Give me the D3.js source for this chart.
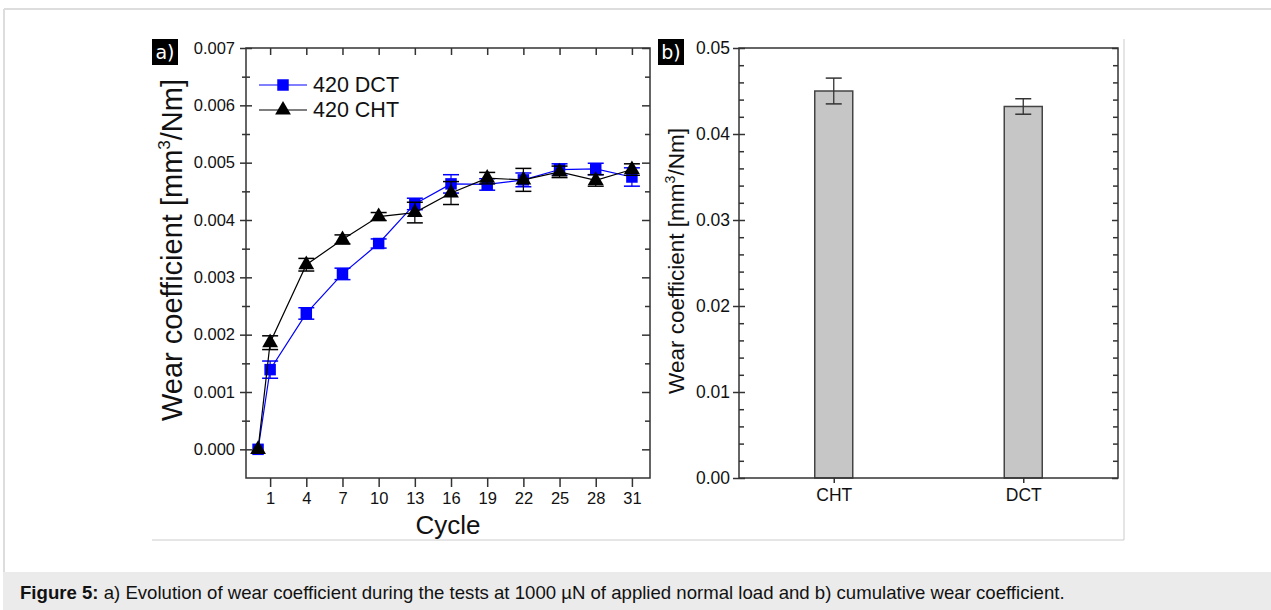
<!DOCTYPE html>
<html><head><meta charset="utf-8">
<script src="https://cdn.jsdelivr.net/npm/d3@7"></script>
<style>body{margin:0;background:#fff}svg{display:block}text{font-family:"Liberation Sans",Arial,sans-serif;fill:#111}</style>
</head><body><svg id="c" width="1271" height="610"></svg>
<script>
// ---- data ----
const cycles=[0,1,4,7,10,13,16,19,22,25,28,31];
const dctValues=[0,0.00139,0.00237,0.00306,0.00359,0.00428,0.00463,0.00462,0.00470,0.00488,0.00489,0.00475];
const dctErr=[0,0.00015,0.0001,0.0001,0.00008,0.0001,0.00016,0.0001,0.00012,0.0001,0.0001,0.00016];
const chtValues=[0,0.00186,0.00322,0.00366,0.00406,0.00413,0.00447,0.00473,0.00470,0.00484,0.00469,0.00488];
const chtErr=[0,0.00012,0.00011,0.00008,0.00007,0.00018,0.0002,0.0001,0.0002,0.0001,0.0001,0.0001];
const xTickValues=[1,4,7,10,13,16,19,22,25,28,31];
const yTicksA=[0,0.001,0.002,0.003,0.004,0.005,0.006,0.007];
const yMinorA=[0.0005,0.0015,0.0025,0.0035,0.0045,0.0055,0.0065];
const barCategories=["CHT","DCT"];
const barValues=[0.0450,0.0432];
const barErr=[0.0015,0.0009];
const yTicksB=[0,0.01,0.02,0.03,0.04,0.05];
const yMinorB=[0.002,0.004,0.006,0.008,0.012,0.014,0.016,0.018,0.022,0.024,0.026,0.028,0.032,0.034,0.036,0.038,0.042,0.044,0.046,0.048];
const seriesNames=["420 DCT","420 CHT"];

const svg=d3.select("#c");
const AX="#333";

// ---- page frame ----
svg.append("line").attr("x1",4).attr("y1",9).attr("x2",1271).attr("y2",9).attr("stroke","#ddd").attr("stroke-width",2);
svg.append("line").attr("x1",4).attr("y1",9).attr("x2",4).attr("y2",572).attr("stroke","#ddd").attr("stroke-width",2);
svg.append("rect").attr("x",3).attr("y",572).attr("width",1268).attr("height",38).attr("fill","#ebebeb");
svg.append("line").attr("x1",1124).attr("y1",39).attr("x2",1124).attr("y2",540).attr("stroke","#ccc").attr("stroke-width",1);
svg.append("line").attr("x1",152).attr("y1",540).attr("x2",1124).attr("y2",540).attr("stroke","#ccc").attr("stroke-width",1);
const cap=svg.append("text").attr("x",20).attr("y",599).style("font-size","18.6px");
cap.append("tspan").attr("font-weight","bold").text("Figure 5:");
cap.append("tspan").text(" a) Evolution of wear coefficient during the tests at 1000 µN of applied normal load and b) cumulative wear coefficient.");

function styleAxis(g){g.selectAll("path,line").attr("stroke",AX).attr("stroke-width",1.5);g.select(".domain").remove();}

// ---- panel a ----
const L=246,R=650,T=48,B=478;
const xA=d3.scaleLinear([-1,32.5],[L,R]);
const yA=d3.scaleLinear([-0.0005,0.007],[B,T]);

svg.append("g").attr("transform",`translate(${L},0)`).call(d3.axisLeft(yA).tickValues(yTicksA).tickSize(6).tickPadding(5).tickFormat(d3.format(".3f"))).call(styleAxis).selectAll("text").style("font-size","16.5px").attr("fill","#111");
svg.append("g").attr("transform",`translate(${L},0)`).call(d3.axisRight(yA).tickValues(yTicksA).tickSize(6).tickFormat("")).call(styleAxis);
svg.append("g").attr("transform",`translate(${L-4},0)`).call(d3.axisRight(yA).tickValues(yMinorA).tickSize(8).tickFormat("")).call(styleAxis);
svg.append("g").attr("transform",`translate(${R},0)`).call(d3.axisLeft(yA).tickValues(yTicksA).tickSize(8).tickFormat("")).call(styleAxis);
svg.append("g").attr("transform",`translate(${R},0)`).call(d3.axisLeft(yA).tickValues(yMinorA).tickSize(5).tickFormat("")).call(styleAxis);
svg.append("g").attr("transform",`translate(0,${T})`).call(d3.axisBottom(xA).tickValues(xTickValues).tickSize(7).tickFormat("")).call(styleAxis);
svg.append("g").attr("transform",`translate(0,${B})`).call(d3.axisBottom(xA).tickValues(xTickValues).tickSize(9).tickPadding(5)).call(styleAxis).selectAll("text").style("font-size","16.5px").attr("fill","#111");
svg.append("rect").attr("x",L).attr("y",T).attr("width",R-L).attr("height",B-T).attr("fill","none").attr("stroke",AX).attr("stroke-width",1.5);

svg.append("text").attr("x",(L+R)/2).attr("y",534).attr("text-anchor","middle").style("font-size","26px").text("Cycle");
const ta=svg.append("text").attr("transform","translate(182,250) rotate(-90)").attr("text-anchor","middle").style("font-size","29px");
ta.append("tspan").text("Wear coefficient [mm");
ta.append("tspan").attr("dy",-12).style("font-size","17px").text("3");
ta.append("tspan").attr("dy",12).text("/Nm]");

function drawSeries(vals,errs,color,symbol,size){
  const pts=cycles.map((c,i)=>({c,v:vals[i],e:errs[i]}));
  const g=svg.append("g");
  g.append("path").datum(pts).attr("d",d3.line().x(d=>xA(d.c)).y(d=>yA(d.v))).attr("fill","none").attr("stroke",color).attr("stroke-width",1.2);
  const eb=g.selectAll(".eb").data(pts.filter(d=>d.e>0)).join("g");
  eb.append("line").attr("x1",d=>xA(d.c)).attr("x2",d=>xA(d.c)).attr("y1",d=>yA(d.v-d.e)).attr("y2",d=>yA(d.v+d.e)).attr("stroke",color).attr("stroke-width",1.2);
  [-1,1].forEach(s=>eb.append("line").attr("x1",d=>xA(d.c)-8).attr("x2",d=>xA(d.c)+8).attr("y1",d=>yA(d.v+s*d.e)).attr("y2",d=>yA(d.v+s*d.e)).attr("stroke",color).attr("stroke-width",1.5));
  g.selectAll(".m").data(pts).join("path").attr("transform",d=>`translate(${xA(d.c)},${yA(d.v)})`).attr("d",d3.symbol().type(symbol).size(size)).attr("fill",color);
}
drawSeries(dctValues,dctErr,"#0000ff",d3.symbolSquare,132);
drawSeries(chtValues,chtErr,"#000",d3.symbolTriangle,108);

// legend
const lg=[{n:seriesNames[0],c:"#0000ff",s:d3.symbolSquare,z:132,y:85},{n:seriesNames[1],c:"#000",s:d3.symbolTriangle,z:108,y:110}];
lg.forEach(d=>{
  svg.append("line").attr("x1",259).attr("x2",307).attr("y1",d.y).attr("y2",d.y).attr("stroke",d.c).attr("stroke-width",1.2);
  svg.append("path").attr("transform",`translate(283,${d.y})`).attr("d",d3.symbol().type(d.s).size(d.z)).attr("fill",d.c);
  svg.append("text").attr("x",313).attr("y",d.y+7).style("font-size","21.5px").text(d.n);
});

// ---- panel b ----
const L2=739,R2=1118;
const xB=d3.scalePoint(barCategories,[L2,R2]).padding(0.5);
const yB=d3.scaleLinear([0,0.05],[B,T]);
svg.append("g").attr("transform",`translate(${L2},0)`).call(d3.axisLeft(yB).tickValues(yTicksB).tickSize(6).tickPadding(3).tickFormat(d3.format(".2f"))).call(styleAxis).selectAll("text").style("font-size","17.5px").attr("fill","#111");
svg.append("g").attr("transform",`translate(${L2},0)`).call(d3.axisRight(yB).tickValues(yTicksB).tickSize(6).tickFormat("")).call(styleAxis);
svg.append("g").attr("transform",`translate(${L2},0)`).call(d3.axisRight(yB).tickValues(yMinorB).tickSize(5).tickFormat("")).call(styleAxis);
svg.append("g").attr("transform",`translate(${R2},0)`).call(d3.axisLeft(yB).tickValues(yTicksB).tickSize(6).tickFormat("")).call(styleAxis);
svg.append("g").attr("transform",`translate(${R2},0)`).call(d3.axisLeft(yB).tickValues(yMinorB).tickSize(5).tickFormat("")).call(styleAxis);

const bw=38;
svg.selectAll(".bar").data(barCategories).join("rect").attr("x",d=>xB(d)-bw/2).attr("width",bw).attr("y",(d,i)=>yB(barValues[i])).attr("height",(d,i)=>B-yB(barValues[i])).attr("fill","#c6c6c6").attr("stroke","#444").attr("stroke-width",1.5);
barCategories.forEach((c,i)=>{
  const x=xB(c),v=barValues[i],e=barErr[i];
  svg.append("line").attr("x1",x).attr("x2",x).attr("y1",yB(v-e)).attr("y2",yB(v+e)).attr("stroke","#333").attr("stroke-width",1.3);
  [-1,1].forEach(s=>svg.append("line").attr("x1",x-8).attr("x2",x+8).attr("y1",yB(v+s*e)).attr("y2",yB(v+s*e)).attr("stroke","#333").attr("stroke-width",1.5));
});
svg.append("g").attr("transform",`translate(0,${B})`).call(d3.axisBottom(xB).tickSize(5).tickPadding(6)).call(styleAxis).selectAll("text").style("font-size","17.5px").attr("fill","#111");
svg.append("rect").attr("x",L2).attr("y",T).attr("width",R2-L2).attr("height",B-T).attr("fill","none").attr("stroke",AX).attr("stroke-width",1.5);
const tb=svg.append("text").attr("transform","translate(684,261) rotate(-90)").attr("text-anchor","middle").style("font-size","22.5px");
tb.append("tspan").text("Wear coefficient [mm");
tb.append("tspan").attr("dy",-9).style("font-size","14px").text("3");
tb.append("tspan").attr("dy",9).text("/Nm]");

// panel labels
[{t:"a)",x:152},{t:"b)",x:658}].forEach(d=>{
  svg.append("rect").attr("x",d.x).attr("y",39).attr("width",26).attr("height",26).attr("fill","#000");
  svg.append("text").attr("x",d.x+13).attr("y",59).attr("text-anchor","middle").style("font-family","DejaVu Sans").style("font-size","19px").attr("fill","#fff").style("fill","#fff").text(d.t);
});
</script></body></html>
